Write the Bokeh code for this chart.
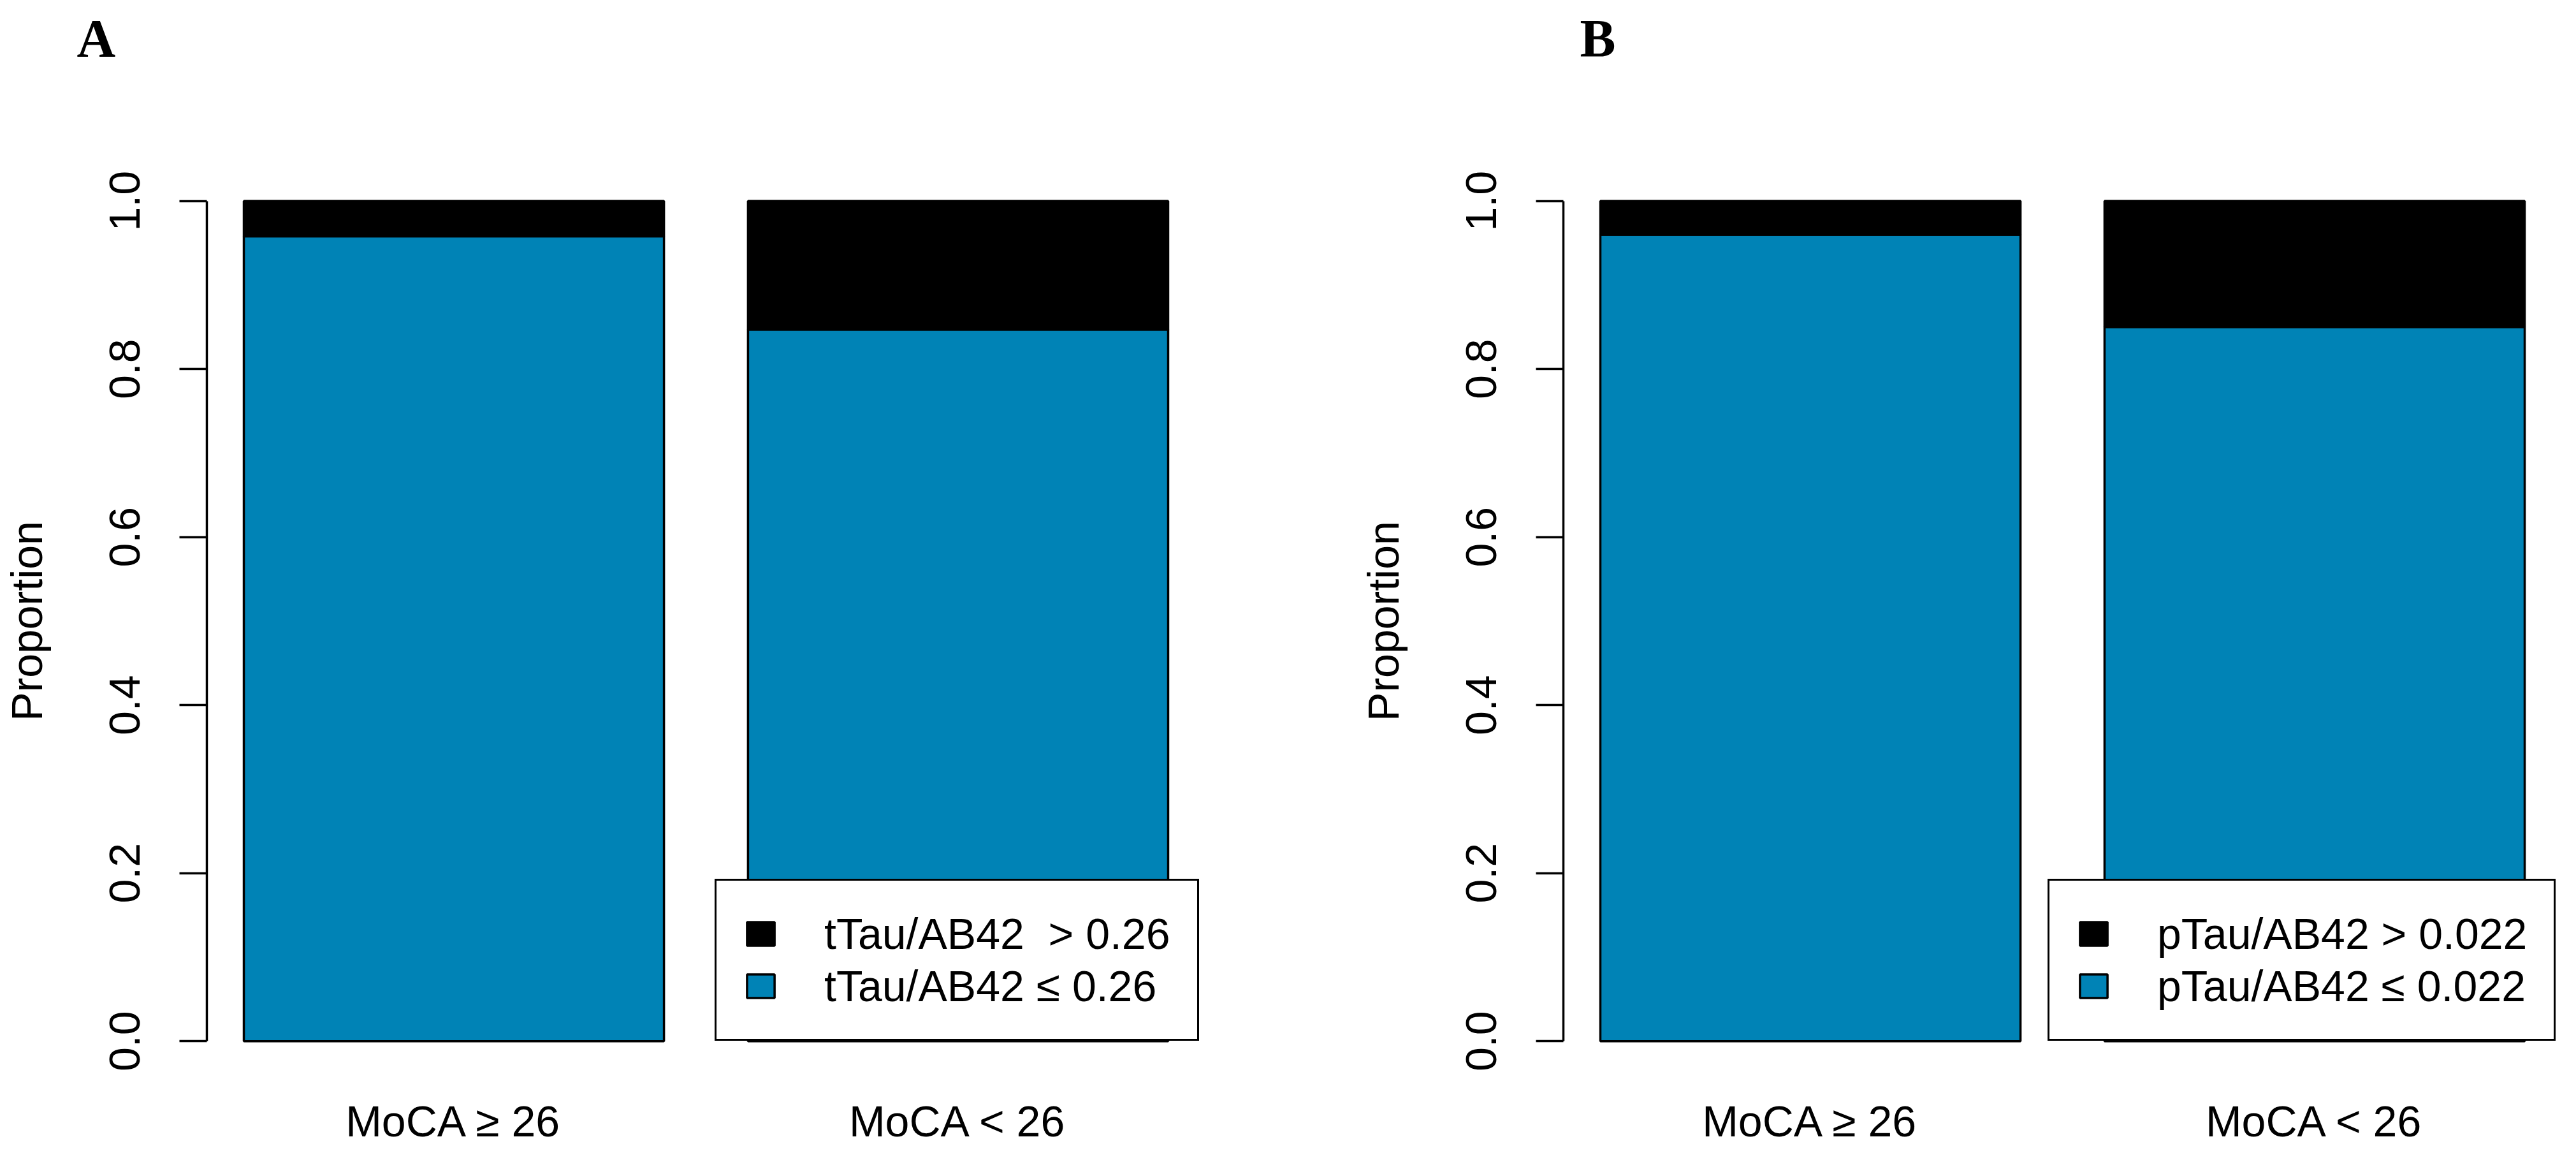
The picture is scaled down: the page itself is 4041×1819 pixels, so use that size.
from bokeh.plotting import figure
from bokeh.models import (FactorRange, Range1d, FixedTicker, PrintfTickFormatter,
                          Legend, LegendItem, Title, ColumnDataSource)
from bokeh.layouts import row
from bokeh.embed import file_html
from bokeh.resources import INLINE

# ---------------- data ----------------
categories = ["MoCA ≥ 26", "MoCA < 26"]
ttau_low = [0.958, 0.847]     # tTau/AB42 ≤ 0.26
ttau_high = [0.042, 0.153]    # tTau/AB42 > 0.26
ptau_low = [0.960, 0.850]     # pTau/AB42 ≤ 0.022
ptau_high = [0.040, 0.150]    # pTau/AB42 > 0.022
y_ticks = [0.0, 0.2, 0.4, 0.6, 0.8, 1.0]
legend_A = ["tTau/AB42  > 0.26", "tTau/AB42 ≤ 0.26"]
legend_B = ["pTau/AB42 > 0.022", "pTau/AB42 ≤ 0.022"]
panel_names = ["A", "B"]

BLUE = "#0083B6"
FONT = "Liberation Sans"
FS = "68px"
LW = 3.5


def make_panel(low, high, leg_labels, name, width, bl, br, legend_x, name_offset):
    src = ColumnDataSource(dict(cat=categories, low=low, high=high))
    p = figure(width=width, height=1803, output_backend="svg", toolbar_location=None,
               x_range=FactorRange(factors=categories, factor_padding=0.2,
                                   range_padding=0.088, range_padding_units="absolute"),
               y_range=Range1d(-0.04, 1.04),
               min_border_left=bl, min_border_right=br,
               min_border_top=262, min_border_bottom=118)
    p.outline_line_color = None
    p.grid.visible = False
    p.background_fill_color = "white"
    p.border_fill_color = "white"

    rs = p.vbar_stack(["low", "high"], x="cat", width=1.0, source=src,
                      fill_color=[BLUE, "black"], line_color="black", line_width=LW)

    # y axis
    ya = p.yaxis[0]
    ya.ticker = FixedTicker(ticks=y_ticks)
    ya.formatter = PrintfTickFormatter(format="%.1f")
    ya.bounds = (0, 1)
    ya.axis_line_width = LW
    ya.axis_line_color = "black"
    ya.major_tick_line_width = LW
    ya.major_tick_line_color = "black"
    ya.major_tick_out = 43
    ya.major_tick_in = 0
    ya.minor_tick_line_color = None
    ya.major_label_orientation = "vertical"
    ya.major_label_text_font = FONT
    ya.major_label_text_font_size = FS
    ya.major_label_text_color = "black"
    ya.major_label_standoff = 62
    ya.axis_label = "Proportion"
    ya.axis_label_text_font = FONT
    ya.axis_label_text_font_size = FS
    ya.axis_label_text_font_style = "normal"
    ya.axis_label_text_color = "black"
    ya.axis_label_standoff = 90

    # x axis (labels only)
    xa = p.xaxis[0]
    xa.axis_line_color = None
    xa.major_tick_line_color = None
    xa.major_tick_out = 0
    xa.major_tick_in = 0
    xa.minor_tick_line_color = None
    xa.major_label_text_font = FONT
    xa.major_label_text_font_size = FS
    xa.major_label_text_color = "black"
    xa.major_label_standoff = 34

    legend = Legend(items=[LegendItem(label=leg_labels[0], renderers=[rs[1]]),
                           LegendItem(label=leg_labels[1], renderers=[rs[0]])],
                    location=(legend_x, 53), margin=0, padding=42, spacing=0,
                    glyph_width=54, glyph_height=46, label_standoff=73,
                    label_text_font=FONT, label_text_font_size=FS,
                    label_text_color="black", label_height=82,
                    border_line_color="black", border_line_width=LW, border_line_alpha=1.0,
                    background_fill_color="white", background_fill_alpha=1.0)
    p.add_layout(legend, "center")

    # spacer between frame and panel letter
    p.add_layout(Title(text=" ", text_font_size="10px", standoff=183), "above")
    p.title.text = name
    p.title.align = "left"
    p.title.vertical_align = "bottom"
    p.title.offset = name_offset
    p.title.standoff = -80
    p.title.text_font = "Liberation Serif"
    p.title.text_font_style = "bold"
    p.title.text_font_size = "84px"
    p.title.text_color = "black"
    return p


pA = make_panel(ttau_low, ttau_high, legend_A, panel_names[0],
                width=2012, bl=324, br=122, legend_x=797, name_offset=-204)
pB = make_panel(ptau_low, ptau_high, legend_B, panel_names[1],
                width=2013, bl=440, br=7, legend_x=760, name_offset=26)

layout = row(pA, pB)
open("out.html", "w").write(file_html(layout, INLINE))
